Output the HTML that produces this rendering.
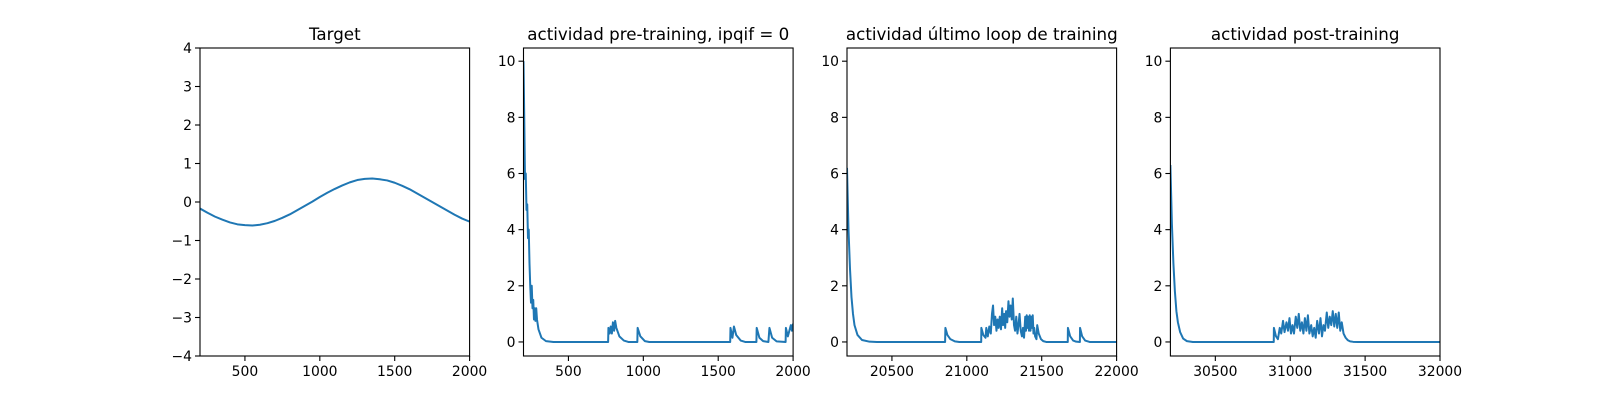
<!DOCTYPE html>
<html><head><meta charset="utf-8"><style>
body{margin:0;background:#fff;}
svg{display:block;font-family:"DejaVu Sans","Liberation Sans",sans-serif;}
</style></head><body>
<svg id="fig" width="1600" height="400" viewBox="0 0 1600 400"></svg>
<script>
// Panel 1: target
const targetX=[200,250,300,350,400,450,500,550,600,650,700,750,800,850,900,950,1000,1050,1100,1150,1200,1250,1300,1350,1400,1450,1500,1550,1600,1650,1700,1750,1800,1850,1900,1950,2000];
const targetY=[-0.17,-0.28,-0.38,-0.46,-0.53,-0.58,-0.6,-0.61,-0.59,-0.55,-0.49,-0.41,-0.32,-0.21,-0.1,0.01,0.13,0.24,0.34,0.43,0.51,0.57,0.6,0.61,0.59,0.56,0.5,0.42,0.33,0.22,0.11,0,-0.11,-0.22,-0.33,-0.43,-0.51];
// Panel 2: pre-training
const preX=[200,205,210,215,220,225,230,235,240,245,250,255,260,265,270,275,280,285,290,300,320,350,400,765,767,775,782,790,797,805,812,820,840,870,900,960,962,980,1010,1040,1580,1582,1595,1605,1620,1650,1680,1755,1757,1775,1800,1835,1842,1860,1890,1950,1952,1965,1975,1985,1992,2000];
const preY=[10,8,5.8,6,4.7,4.9,3.7,4,2.8,2.0,1.4,2.0,1.2,1.5,0.8,1.2,0.75,1.2,0.8,0.45,0.15,0.03,0,0,0.5,0.3,0.55,0.3,0.7,0.4,0.75,0.5,0.2,0.05,0,0,0.5,0.2,0.03,0,0,0.5,0.15,0.55,0.25,0.05,0,0,0.5,0.15,0.03,0,0.5,0.15,0.02,0,0.5,0.2,0.4,0.6,0.4,0.65];
// Panel 3: last training loop
const lastX=[20200,20210,20220,20230,20240,20250,20270,20300,20350,20400,20855,20857,20870,20890,20920,20950,21096,21097,21110,21125,21130,21140,21150,21160,21168,21175,21182,21190,21198,21205,21212,21220,21228,21236,21242,21250,21256,21262,21270,21278,21285,21292,21300,21307,21315,21322,21330,21338,21345,21352,21360,21368,21375,21382,21390,21395,21400,21405,21410,21415,21420,21425,21430,21435,21440,21445,21450,21456,21465,21470,21480,21495,21510,21530,21674,21675,21690,21710,21730,21755,21756,21770,21790,21820,22000];
const lastY=[6.2,4,2.6,1.6,1.0,0.6,0.25,0.07,0.01,0,0,0.5,0.25,0.1,0.02,0,0,0.5,0.25,0.15,0.5,0.2,0.55,0.3,1.0,1.3,0.6,0.9,0.4,0.8,0.5,0.9,0.45,1.2,0.6,1.0,0.5,1.1,0.7,1.45,0.9,1.3,0.8,1.55,0.6,0.4,0.9,0.3,0.6,1.0,0.4,0.2,0.5,0.15,0.9,0.4,0.95,0.5,0.9,0.4,0.95,0.4,0.9,0.5,0.95,0.3,0.5,0.2,0.1,0.6,0.3,0.1,0.03,0,0,0.5,0.2,0.05,0.01,0,0.5,0.2,0.05,0,0];
// Panel 4: post-training
const postX=[30200,30210,30220,30230,30240,30250,30265,30285,30310,30350,30890,30891,30905,30918,30930,30940,30952,30962,30975,30985,30995,31005,31015,31025,31037,31047,31057,31067,31078,31088,31098,31108,31118,31128,31140,31150,31160,31170,31180,31192,31202,31212,31222,31232,31244,31254,31264,31274,31284,31294,31304,31314,31324,31334,31344,31356,31370,31385,31400,31420,31450,32000];
const postY=[6.3,4.2,2.8,1.8,1.1,0.7,0.35,0.12,0.03,0,0,0.5,0.2,0.1,0.5,0.3,0.75,0.35,0.7,0.4,0.85,0.3,0.6,0.3,0.9,0.5,1.0,0.4,0.7,0.3,0.85,0.4,0.95,0.3,0.6,0.2,0.5,0.15,0.75,0.3,0.85,0.2,0.6,0.4,1.05,0.5,0.9,0.6,1.1,0.55,1.0,0.5,1.05,0.4,0.7,0.3,0.15,0.06,0.02,0.005,0,0];

const titles=["Target","actividad pre-training, ipqif = 0","actividad último loop de training","actividad post-training"];
const xTicks1=[500,1000,1500,2000];
const xTicks3=[20500,21000,21500,22000];
const xTicks4=[30500,31000,31500,32000];
const yTicks1=[-4,-3,-2,-1,0,1,2,3,4];
const yTicksAct=[0,2,4,6,8,10];

const NS="http://www.w3.org/2000/svg";
const svg=document.getElementById('fig');
function mk(tag,attrs,parent){const e=document.createElementNS(NS,tag);for(const k in attrs)e.setAttribute(k,attrs[k]);(parent||svg).appendChild(e);return e;}
const W=269.6,TOP=48,H=308;
const panels=[
 {left:200,xmin:200,xmax:2000,ymin:-4,ymax:4,xs:targetX,ys:targetY,xt:xTicks1,yt:yTicks1,name:'target'},
 {left:523.5,xmin:200,xmax:2000,ymin:-0.5,ymax:10.47,xs:preX,ys:preY,xt:xTicks1,yt:yTicksAct,name:'pre-training'},
 {left:847,xmin:20200,xmax:22000,ymin:-0.5,ymax:10.47,xs:lastX,ys:lastY,xt:xTicks3,yt:yTicksAct,name:'last-loop'},
 {left:1170.4,xmin:30200,xmax:32000,ymin:-0.5,ymax:10.47,xs:postX,ys:postY,xt:xTicks4,yt:yTicksAct,name:'post-training'}
];
panels.forEach((p,i)=>{
 const g=mk('g',{});
 
 
 const sx=v=>p.left+(v-p.xmin)/(p.xmax-p.xmin)*W;
 const sy=v=>TOP+H-(v-p.ymin)/(p.ymax-p.ymin)*H;
 const cp=mk('clipPath',{id:'c'+i},g);mk('rect',{x:p.left,y:TOP,width:W,height:H},cp);
 const d=p.xs.map((x,j)=>(j?'L':'M')+sx(x).toFixed(2)+','+sy(p.ys[j]).toFixed(2)).join('');
 const line=mk('path',{d:d,fill:'none',stroke:'#1f77b4','stroke-width':2,'stroke-linejoin':'round','clip-path':'url(#c'+i+')'},g);
 
 
 const fr=mk('rect',{x:p.left,y:TOP,width:W,height:H,fill:'none',stroke:'#000','stroke-width':1.1},g);
 
 
 p.xt.forEach(t=>{const x=sx(t);mk('line',{x1:x,x2:x,y1:TOP+H,y2:TOP+H+5,stroke:'#000','stroke-width':1.1},g);
  const tx=mk('text',{x:x,y:TOP+H+20,'text-anchor':'middle','font-size':13.9},g);tx.textContent=t;
  
  });
 p.yt.forEach(t=>{const y=sy(t);mk('line',{x1:p.left-5,x2:p.left,y1:y,y2:y,stroke:'#000','stroke-width':1.1},g);
  const tx=mk('text',{x:p.left-8,y:y+5,'text-anchor':'end','font-size':13.9},g);tx.textContent=t<0?'\u2212'+(-t):t;
  
  });
 const ti=mk('text',{x:p.left+W/2,y:TOP-8,'text-anchor':'middle','font-size':16.7},g);ti.textContent=titles[i];
 
 
});
</script>
</body></html>
